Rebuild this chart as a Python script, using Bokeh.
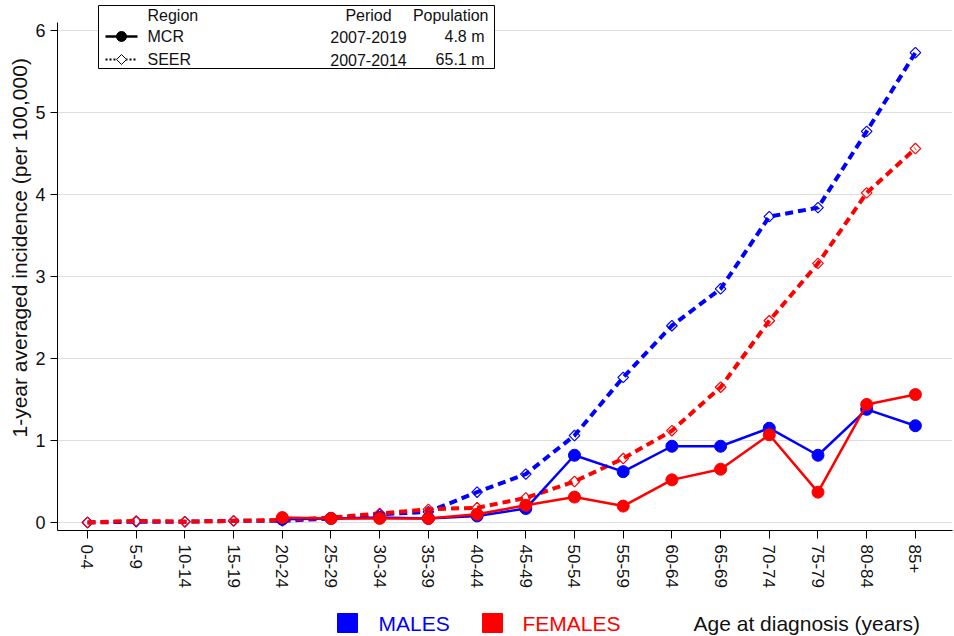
import math

from bokeh.core.properties import value
from bokeh.embed import file_html
from bokeh.layouts import column
from bokeh.models import FixedTicker, Range1d, Title
from bokeh.plotting import figure
from bokeh.resources import INLINE

nan = float("nan")

# Age groups at diagnosis (x axis)
age_groups = ["0-4", "5-9", "10-14", "15-19", "20-24", "25-29", "30-34", "35-39",
              "40-44", "45-49", "50-54", "55-59", "60-64", "65-69", "70-74",
              "75-79", "80-84", "85+"]

# 1-year averaged incidence per 100,000
seer_males = [0.00, 0.01, 0.01, 0.02, 0.02, 0.05, 0.10, 0.13, 0.37, 0.59,
              1.06, 1.77, 2.40, 2.85, 3.73, 3.84, 4.77, 5.73]
seer_females = [0.00, 0.02, 0.01, 0.02, 0.03, 0.06, 0.11, 0.16, 0.18, 0.30,
                0.50, 0.78, 1.12, 1.65, 2.46, 3.16, 4.02, 4.56]
mcr_males = [nan, nan, nan, nan, 0.04, 0.05, 0.06, 0.05, 0.08, 0.17,
             0.82, 0.62, 0.93, 0.93, 1.15, 0.82, 1.38, 1.18]
mcr_females = [nan, nan, nan, nan, 0.06, 0.05, 0.05, 0.05, 0.10, 0.21,
               0.31, 0.20, 0.52, 0.65, 1.07, 0.37, 1.44, 1.56]

y_ticks = [0, 1, 2, 3, 4, 5, 6]

# Region key
key_header = ["Region", "Period", "Population"]
key_regions = ["MCR", "SEER"]
key_periods = ["2007-2019", "2007-2014"]
key_populations = ["4.8 m", "65.1 m"]

sex_labels = ["MALES", "FEMALES"]

BLUE = "#0000ff"
RED = "#ff0000"
FONT = "Liberation Sans"
INK = "#111111"

x = list(range(len(age_groups)))

p = figure(width=954, height=600, title=None,
           x_range=Range1d(-0.616, 17.762), y_range=Range1d(-0.0976, 6.366),
           output_backend="svg", toolbar_location=None,
           min_border_left=57, min_border_right=2, min_border_top=0,
           min_border_bottom=70)
p.outline_line_color = None
p.background_fill_color = "white"

# pixel-space ranges for the key box (frame spans x 57..952, y 0..530)
p.extra_x_ranges = {"px": Range1d(57, 952)}
p.extra_y_ranges = {"py": Range1d(530, 0)}

# axes
p.yaxis.ticker = FixedTicker(ticks=y_ticks)
p.yaxis.bounds = (-0.0976, 6.1)
p.yaxis.major_tick_out = 7
p.yaxis.major_tick_in = 0
p.yaxis.minor_tick_line_color = None
p.yaxis.major_label_standoff = 5
p.yaxis.major_label_text_font = FONT
p.yaxis.major_label_text_font_size = "18px"
p.yaxis.major_label_text_color = INK

p.xaxis.ticker = FixedTicker(ticks=x)
p.xaxis.major_label_overrides = {i: lab for i, lab in enumerate(age_groups)}
p.xaxis.major_label_orientation = -math.pi / 2
p.xaxis.major_tick_out = 8
p.xaxis.major_tick_in = 0
p.xaxis.minor_tick_line_color = None
p.xaxis.major_label_standoff = 6
p.xaxis.major_label_text_font = FONT
p.xaxis.major_label_text_font_size = "17px"
p.xaxis.major_label_text_color = INK

for ax in (p.xaxis, p.yaxis):
    ax.axis_line_color = "black"
    ax.major_tick_line_color = "black"

p.xgrid.visible = False
p.ygrid.ticker = FixedTicker(ticks=y_ticks)
p.ygrid.grid_line_color = "#dddddd"
p.ygrid.grid_line_width = 1

# y-axis title, placed left of the tick labels
p.add_layout(Title(text="1-year averaged incidence (per 100,000)", align="left",
                   offset=93, standoff=4, text_font=FONT, text_font_size="21px",
                   text_font_style="normal", text_color=INK), "left")

# SEER: dashed lines with hollow diamonds
for vals, col in ((seer_males, BLUE), (seer_females, RED)):
    p.line(x, vals, line_color=col, line_width=4, line_dash="8 5")
    p.scatter(x, vals, marker="square", angle=math.pi / 4, size=7.5,
              fill_color=None, line_color=col, line_width=1.2)

# MCR: solid lines with filled circles
for vals, col in ((mcr_males, BLUE), (mcr_females, RED)):
    p.line(x, vals, line_color=col, line_width=2.5)
    p.scatter(x, vals, marker="circle", size=12, fill_color=col, line_color=col)

# key box
kw = dict(x_range_name="px", y_range_name="py")
p.quad(left=[98], right=[494], top=[5], bottom=[68], fill_color="white",
       line_color="black", line_width=1, **kw)
p.segment(x0=[105], x1=[137], y0=[36], y1=[36], line_color="black", line_width=2.5, **kw)
p.scatter([121], [36], marker="circle", size=10, color="black", **kw)
p.segment(x0=[105], x1=[137], y0=[59], y1=[59], line_color="black", line_width=2,
          line_dash="2 2", **kw)
p.scatter([121], [59], marker="square", angle=math.pi / 4, size=7, fill_color="white",
          line_color="black", line_width=1, **kw)

txt = dict(text_font=value(FONT), text_font_size="16px", text_baseline="middle",
           text_color=INK, **kw)
p.text(x=[147, 147, 147], y=[15, 36, 59], text=[key_header[0]] + key_regions,
       text_align="left", **txt)
p.text(x=[368, 368, 368], y=[15, 36, 59], text=[key_header[1]] + key_periods,
       text_align="center", **txt)
p.text(x=[488], y=[15], text=[key_header[2]], text_align="right", **txt)
p.text(x=[484, 484], y=[36, 59], text=key_populations, text_align="right", **txt)

# bottom strip: sex key and x-axis title (frame aligned with the plot above, x 57..952)
s = figure(width=954, height=36, x_range=Range1d(57, 952), y_range=Range1d(36, 0),
           output_backend="svg", toolbar_location=None, title=None,
           x_axis_location=None, y_axis_location=None, min_border=0)
s.outline_line_color = None
s.grid.visible = False
s.quad(left=[337, 482], right=[357, 502], top=[13, 13], bottom=[32, 32],
       fill_color=[BLUE, RED], line_color=[BLUE, RED])
s.text(x=[378, 522], y=[23, 23], text=sex_labels, text_color=[BLUE, RED],
       text_font=value(FONT), text_font_size="21px", text_baseline="middle")
s.text(x=[693], y=[23], text=["Age at diagnosis (years)"], text_color=INK,
       text_font=value(FONT), text_font_size="21px", text_baseline="middle")

layout = column(p, s, spacing=0)
open("out.html", "w").write(file_html(layout, INLINE))
